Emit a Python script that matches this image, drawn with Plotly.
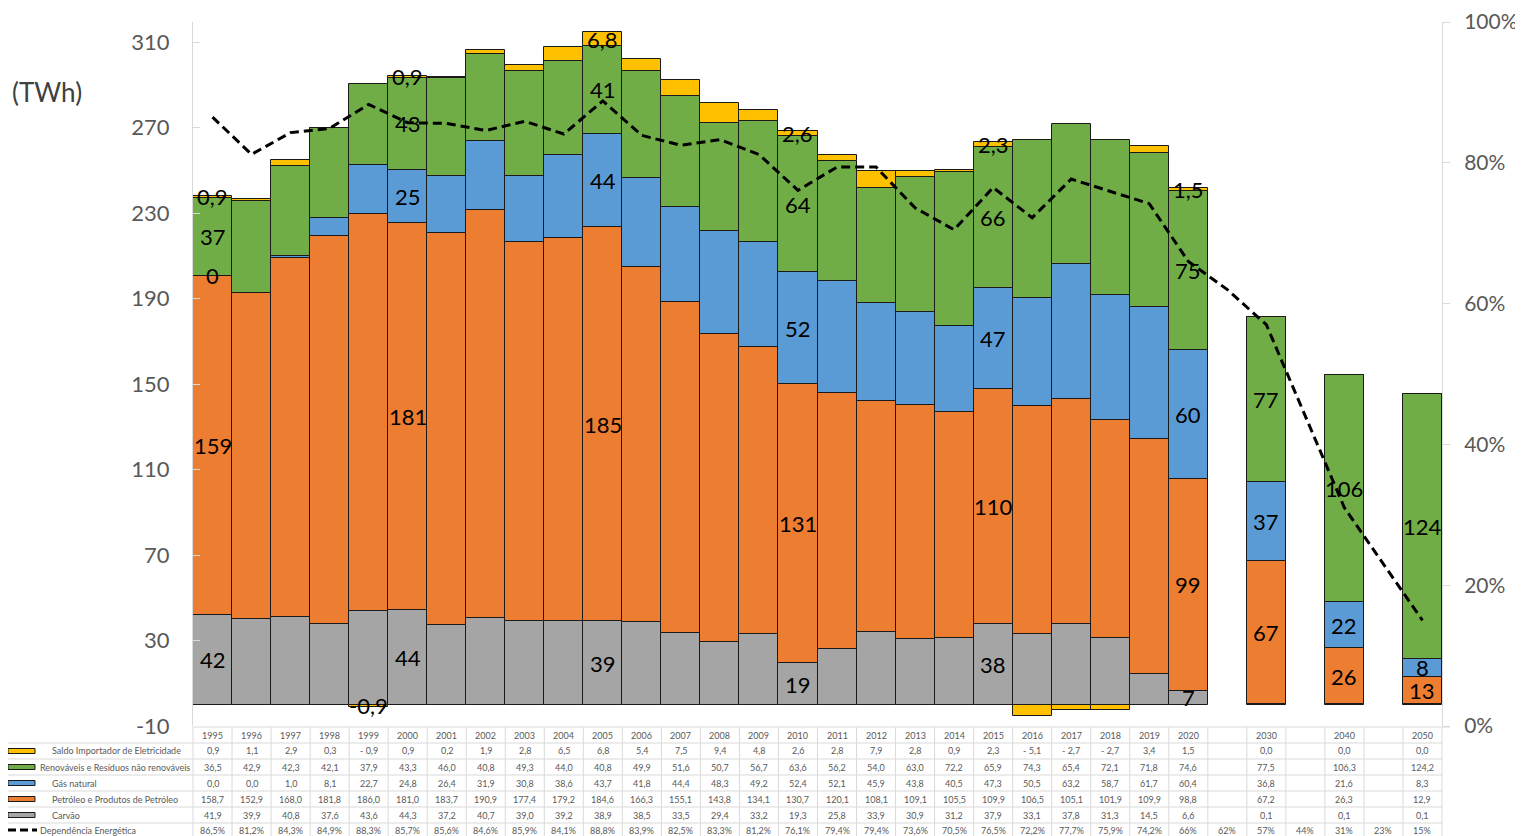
import math
import plotly.graph_objects as go

# ---------------- data ----------------
years = ["1995", "1996", "1997", "1998", "1999", "2000", "2001", "2002", "2003", "2004",
         "2005", "2006", "2007", "2008", "2009", "2010", "2011", "2012", "2013", "2014",
         "2015", "2016", "2017", "2018", "2019", "2020", "", "2030", "", "2040", "", "2050"]

saldo = [0.9, 1.1, 2.9, 0.3, -0.9, 0.9, 0.2, 1.9, 2.8, 6.5, 6.8, 5.4, 7.5, 9.4, 4.8, 2.6,
         2.8, 7.9, 2.8, 0.9, 2.3, -5.1, -2.7, -2.7, 3.4, 1.5, None, 0.0, None, 0.0, None, 0.0]
renov = [36.5, 42.9, 42.3, 42.1, 37.9, 43.3, 46.0, 40.8, 49.3, 44.0, 40.8, 49.9, 51.6, 50.7,
         56.7, 63.6, 56.2, 54.0, 63.0, 72.2, 65.9, 74.3, 65.4, 72.1, 71.8, 74.6, None, 77.48,
         None, 106.3, None, 124.2]
gas = [0.0, 0.0, 1.0, 8.1, 22.7, 24.8, 26.4, 31.9, 30.8, 38.6, 43.7, 41.8, 44.4, 48.3, 49.2,
       52.4, 52.1, 45.9, 43.8, 40.5, 47.3, 50.5, 63.2, 58.7, 61.7, 60.4, None, 36.8, None, 21.6,
       None, 8.3]
petr = [158.7, 152.9, 168.0, 181.8, 186.0, 181.0, 183.7, 190.9, 177.4, 179.2, 184.6, 166.3,
        155.1, 143.8, 134.1, 130.7, 120.1, 108.1, 109.1, 105.5, 109.9, 106.5, 105.1, 101.9,
        109.9, 98.8, None, 67.2, None, 26.3, None, 12.9]
coal = [41.9, 39.9, 40.8, 37.6, 43.6, 44.3, 37.2, 40.7, 39.0, 39.2, 38.9, 38.5, 33.5, 29.4,
        33.2, 19.3, 25.8, 33.9, 30.9, 31.2, 37.9, 33.1, 37.8, 31.3, 14.5, 6.6, None, 0.1, None,
        0.1, None, 0.1]
dep = [86.5, 81.2, 84.3, 84.9, 88.3, 85.7, 85.6, 84.6, 85.9, 84.1, 88.8, 83.9, 82.5, 83.3,
       81.2, 76.1, 79.4, 79.4, 73.6, 70.5, 76.5, 72.2, 77.7, 75.9, 74.2, 66, 62, 57, 44, 31,
       23, 15]

series_names = ["Saldo Importador de Eletricidade", "Renováveis e Resíduos não renováveis",
                "Gás natural", "Petróleo e Produtos de Petróleo", "Carvão"]
dep_name = "Dependência Energética"

y_tickvals = list(range(-10, 311, 40))
y_ticktext = [str(v) for v in y_tickvals]
y2_tickvals = [0, 20, 40, 60, 80, 100]
y2_ticktext = [f"{v}%" for v in y2_tickvals]

# years whose segments carry a value label
label_years_main = ["1995", "2000", "2005", "2010", "2015", "2020", "2030", "2040", "2050"]
label_years_coal = ["1995", "2000", "2005", "2010", "2015", "2020"]
label_years_saldo = ["1995", "1999", "2000", "2005", "2010", "2015", "2020"]

colors = {"coal": "#A5A5A5", "petr": "#ED7D31", "gas": "#5B9BD5",
          "renov": "#70AD47", "saldo": "#FFC000"}

FONT = "Lato, 'Open Sans', sans-serif"
TXT = "#595959"

# ---------------- layout geometry (page pixels; page body has an 8px margin) ----------------
OFF = 8
W, H = 1523 - OFF, 836 - OFF
L, R, T, B = 193 - OFF, 81, 22 - OFF, 110
PW, PH = W - L - R, H - T - B


def ypap(ypix):
    return (H - B - (ypix - OFF)) / PH


def xpap(xpix):
    return (xpix - OFF - L) / PW


x = list(range(len(years)))
fig = go.Figure()

stack = [("coal", coal, series_names[4]), ("petr", petr, series_names[3]),
         ("gas", gas, series_names[2]), ("renov", renov, series_names[1]),
         ("saldo", saldo, series_names[0])]
for key, vals, name in stack:
    fig.add_trace(go.Bar(x=x, y=vals, name=name, marker_color=colors[key],
                         marker_line=dict(color="#1a1a1a", width=1), showlegend=False))

fig.add_trace(go.Scatter(x=x, y=dep, name=dep_name, mode="lines",
                         line=dict(color="black", width=3, dash="9px,5px"),
                         yaxis="y2", showlegend=False))


def r0(v):
    return str(int(math.floor(v + 0.5)))


def f1(v):
    s = f"{abs(v):.1f}".replace(".", ",")
    return ("- " if v < 0 else "") + s


def fpct(v):
    if float(v).is_integer():
        return f"{int(v)}%"
    return f"{v:.1f}".replace(".", ",") + "%"


annotations = []
# ---- bar value labels, centred in each stacked segment ----
for i, yr in enumerate(years):
    if coal[i] is None:
        continue
    base = 0.0
    for key, vals, _ in stack:
        v = vals[i]
        if key == "saldo" and v < 0:
            centre = v / 2
        else:
            centre = base + v / 2
            base += v
        if key == "coal":
            show = yr in label_years_coal
        elif key == "saldo":
            show = yr in label_years_saldo
        else:
            show = yr in label_years_main
        if show:
            text = f1(v).replace("- ", "-") if key == "saldo" else r0(v)
            annotations.append(dict(x=i, y=centre, xref="x", yref="y", text=text,
                                    showarrow=False, xanchor="center", yanchor="middle",
                                    font=dict(size=22, color="black", family=FONT)))

# ---- data table below the chart ----
row_centres = [735, 751, 767, 783, 799, 815, 830]
row_lines = [727, 743, 759, 775, 791, 807, 823]
table_rows = [saldo, renov, gas, petr, coal]
cell_font = dict(size=9, color=TXT, family=FONT)
for i, yr in enumerate(years):
    annotations.append(dict(x=i, y=ypap(row_centres[0]), xref="x", yref="paper", text=yr,
                            showarrow=False, xanchor="center", yanchor="middle",
                            font=cell_font))
    for r, vals in enumerate(table_rows):
        if vals[i] is None:
            continue
        annotations.append(dict(x=i, y=ypap(row_centres[r + 1]), xref="x", yref="paper",
                                text=f1(vals[i]), showarrow=False, xanchor="center",
                                yanchor="middle", font=cell_font))
    annotations.append(dict(x=i, y=ypap(row_centres[6]), xref="x", yref="paper",
                            text=fpct(dep[i]), showarrow=False, xanchor="center",
                            yanchor="middle", font=cell_font))

label_x = [50, 38, 50, 50, 50, 38]
for r, name in enumerate(series_names + [dep_name]):
    annotations.append(dict(x=xpap(label_x[r]), y=ypap(row_centres[r + 1]), xref="paper",
                            yref="paper", text=name, showarrow=False, xanchor="left",
                            yanchor="middle", font=cell_font))

annotations.append(dict(x=xpap(10), y=ypap(92), xref="paper", yref="paper", text="(TWh)",
                        showarrow=False, xanchor="left", yanchor="middle",
                        font=dict(size=26, color="#404040", family=FONT)))

shapes = []
GRID = "#D9D9D9"
# horizontal table lines
shapes.append(dict(type="line", xref="paper", yref="paper", x0=0, x1=xpap(1450),
                   y0=ypap(row_lines[0]), y1=ypap(row_lines[0]),
                   line=dict(color=GRID, width=1)))
for yl in row_lines[1:]:
    shapes.append(dict(type="line", xref="paper", yref="paper", x0=xpap(OFF), x1=1,
                       y0=ypap(yl), y1=ypap(yl), line=dict(color=GRID, width=1)))
# vertical table lines at the category boundaries
n = len(years)
for k in range(n + 1):
    xp = k / n
    shapes.append(dict(type="line", xref="paper", yref="paper", x0=xp, x1=xp,
                       y0=ypap(row_lines[0]), y1=ypap(840), line=dict(color=GRID, width=1)))
# legend keys inside the table
key_order = ["saldo", "renov", "gas", "petr", "coal"]
for r, key in enumerate(key_order):
    yc = row_centres[r + 1]
    shapes.append(dict(type="rect", xref="paper", yref="paper", x0=xpap(8), x1=xpap(35),
                       y0=ypap(yc + 2.5), y1=ypap(yc - 2.5), fillcolor=colors[key],
                       line=dict(color="#1a1a1a", width=1)))
shapes.append(dict(type="line", xref="paper", yref="paper", x0=xpap(8), x1=xpap(37),
                   y0=ypap(row_centres[6]), y1=ypap(row_centres[6]),
                   line=dict(color="black", width=3, dash="8px,4px")))

fig.update_layout(
    width=W, height=H,
    margin=dict(l=L, r=R, t=T, b=B, autoexpand=False),
    paper_bgcolor="white", plot_bgcolor="white",
    barmode="relative", bargap=0,
    font=dict(family=FONT, color=TXT),
    xaxis=dict(range=[-0.5, n - 0.5], showticklabels=False, showgrid=False,
               zeroline=False, showline=False, ticks=""),
    yaxis=dict(range=[-10, 319.4], tickvals=y_tickvals, ticktext=y_ticktext, showgrid=False,
               zeroline=False, showline=True, linecolor=GRID, linewidth=1,
               ticks="inside", ticklen=7, tickcolor=GRID,
               tickfont=dict(size=22, color=TXT, family=FONT), ticklabelstandoff=18),
    yaxis2=dict(range=[0, 100.01], tickvals=y2_tickvals, ticktext=y2_ticktext,
                overlaying="y", side="right", showgrid=False, zeroline=False,
                showline=True, linecolor=GRID, linewidth=1, ticks="outside", ticklen=7,
                tickcolor=GRID, tickfont=dict(size=21, color=TXT, family=FONT),
                ticklabelstandoff=10, ticklabeloverflow="allow"),
    annotations=annotations,
    shapes=shapes,
    showlegend=False,
)

fig.write_html("out.html")
